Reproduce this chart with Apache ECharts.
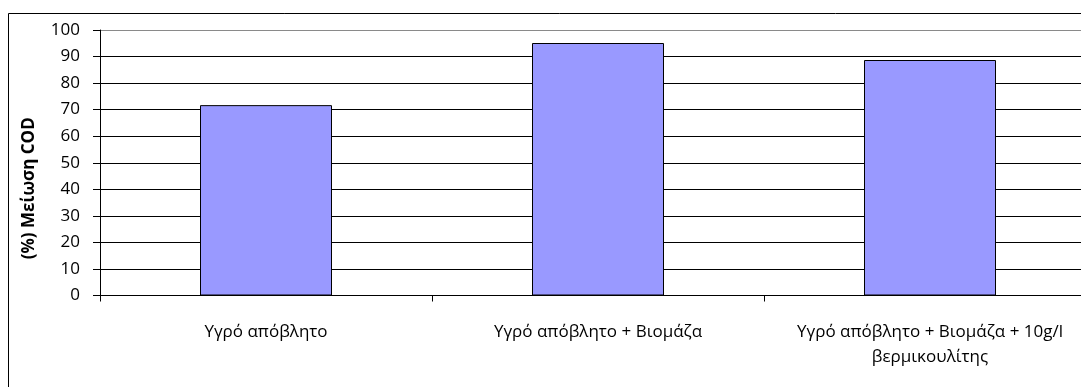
<!DOCTYPE html>
<html>
<head>
<meta charset="utf-8">
<script src="https://cdn.jsdelivr.net/npm/echarts@6/dist/echarts.min.js"></script>
<style>
  html, body { margin: 0; padding: 0; overflow: hidden; background: #fff; }
  #chart { width: 1110px; height: 387px; }
</style>
</head>
<body>
<div id="chart"></div>
<script>
// Treatment groups and their COD reduction (%)
const categories = [
  'Υγρό απόβλητο',
  'Υγρό απόβλητο + Βιομάζα',
  'Υγρό απόβλητο + Βιομάζα + 10g/l\nβερμικουλίτης'
];
const codReduction = [71.7, 95.1, 88.7];
const yAxisTitle = '(%) Μείωση COD';

const FONT = 'Open Sans';

// Eleven split lines (0..100); the top one is the lighter plot border
const splitColors = ['#000', '#000', '#000', '#000', '#000', '#000', '#000', '#000', '#000', '#000', '#8a8a8a'];

const chart = echarts.init(document.getElementById('chart'), null, { renderer: 'canvas' });

chart.setOption({
  animation: false,
  backgroundColor: '#fff',
  textStyle: { fontFamily: FONT },
  graphic: [{
    type: 'rect',
    silent: true,
    shape: { x: 8.5, y: 13.5, width: 1300, height: 600 },
    style: { fill: 'none', stroke: '#000', lineWidth: 1 },
    z: -1
  }],
  grid: { left: 100, right: 14, top: 30, bottom: 91.5 },
  xAxis: {
    type: 'category',
    data: categories,
    axisLine: { lineStyle: { color: '#000', width: 1 } },
    axisTick: { show: true, length: 6, alignWithLabel: false, lineStyle: { color: '#000' } },
    axisLabel: {
      margin: 24,
      interval: 0,
      color: '#000',
      fontFamily: FONT,
      fontSize: 17,
      lineHeight: 25
    }
  },
  yAxis: {
    type: 'value',
    min: 0,
    max: 100,
    interval: 10,
    name: yAxisTitle,
    nameLocation: 'middle',
    nameGap: 62,
    nameRotate: 90,
    nameTextStyle: {
      fontFamily: FONT,
      fontWeight: 'bold',
      fontSize: 17,
      color: '#000',
      padding: [0, 51, 0, 0]
    },
    axisLine: { show: true, lineStyle: { color: '#000', width: 1 } },
    axisTick: { show: true, length: 7, lineStyle: { color: '#000' } },
    axisLabel: {
      margin: 20,
      color: '#000',
      fontFamily: FONT,
      fontSize: 17
    },
    splitLine: { show: true, lineStyle: { color: splitColors, width: 1 } }
  },
  series: [{
    type: 'bar',
    data: codReduction,
    barWidth: 132,
    itemStyle: { color: '#9999ff', borderColor: '#000', borderWidth: 1 }
  }]
});
</script>
</body>
</html>
